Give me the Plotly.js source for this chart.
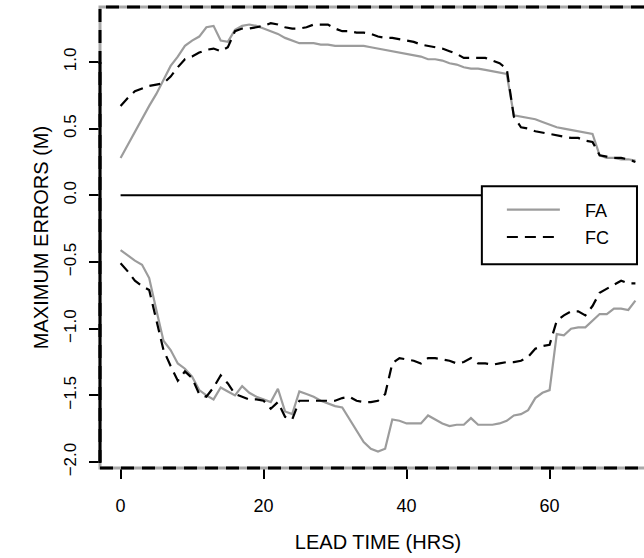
<!DOCTYPE html>
<html>
<head>
<meta charset="utf-8">
<script src="https://cdn.plot.ly/plotly-3.0.1.min.js"></script>
<style>
html,body{margin:0;padding:0;overflow:hidden;background:#fff;}
#chart{width:700px;height:558px;}
</style>
</head>
<body>
<div id="chart"></div>
<script>
// Lead time (hours)
const hours = [0,1,2,3,4,5,6,7,8,9,10,11,12,13,14,15,16,17,18,19,20,21,22,23,24,25,26,27,28,29,30,31,32,33,34,35,36,37,38,39,40,41,42,43,44,45,46,47,48,49,50,51,52,53,54,55,56,57,58,59,60,61,62,63,64,65,66,67,68,69,70,71,72];

// Maximum positive errors (m)
const faUpper = [0.28,0.38,0.48,0.58,0.67,0.76,0.86,0.97,1.04,1.12,
  1.16,1.19,1.26,1.27,1.16,1.15,1.24,1.27,1.28,1.27,
  1.25,1.23,1.21,1.18,1.16,1.14,1.14,1.14,1.13,1.13,
  1.12,1.12,1.12,1.12,1.12,1.11,1.10,1.09,1.08,1.07,
  1.06,1.05,1.04,1.02,1.02,1.01,0.99,0.98,0.96,0.95,
  0.95,0.94,0.93,0.92,0.91,0.60,0.59,0.58,0.57,0.55,
  0.53,0.51,0.50,0.49,0.48,0.47,0.46,0.30,0.28,0.28,
  0.27,0.27,0.26];
const fcUpper = [0.67,0.73,0.78,0.80,0.82,0.83,0.84,0.89,0.96,1.02,
  1.04,1.07,1.09,1.10,1.08,1.11,1.23,1.25,1.25,1.26,
  1.27,1.29,1.28,1.26,1.25,1.25,1.26,1.28,1.28,1.28,
  1.25,1.23,1.23,1.22,1.22,1.21,1.19,1.18,1.18,1.17,
  1.16,1.15,1.13,1.12,1.11,1.10,1.08,1.06,1.03,1.03,
  1.03,1.03,1.01,0.99,0.95,0.59,0.51,0.50,0.48,0.47,
  0.46,0.45,0.44,0.43,0.43,0.41,0.40,0.30,0.29,0.28,
  0.28,0.27,0.25];

// Maximum negative errors (m)
const faLower = [-0.41,-0.45,-0.49,-0.52,-0.62,-0.86,-1.09,-1.16,-1.26,-1.30,
  -1.36,-1.46,-1.50,-1.53,-1.44,-1.47,-1.50,-1.43,-1.48,-1.51,
  -1.53,-1.55,-1.45,-1.62,-1.64,-1.47,-1.49,-1.51,-1.54,-1.56,
  -1.58,-1.59,-1.68,-1.76,-1.85,-1.90,-1.92,-1.90,-1.68,-1.69,
  -1.71,-1.71,-1.71,-1.65,-1.68,-1.71,-1.73,-1.72,-1.72,-1.67,
  -1.72,-1.72,-1.72,-1.71,-1.69,-1.65,-1.64,-1.61,-1.52,-1.48,
  -1.46,-1.04,-1.05,-1.00,-0.99,-0.99,-0.94,-0.89,-0.89,-0.85,
  -0.85,-0.86,-0.79];
const fcLower = [-0.51,-0.57,-0.64,-0.68,-0.71,-0.94,-1.16,-1.28,-1.39,-1.32,
  -1.37,-1.49,-1.51,-1.44,-1.35,-1.41,-1.49,-1.51,-1.53,-1.53,
  -1.54,-1.60,-1.55,-1.66,-1.68,-1.54,-1.54,-1.54,-1.54,-1.54,
  -1.54,-1.52,-1.51,-1.54,-1.55,-1.55,-1.54,-1.49,-1.26,-1.22,
  -1.23,-1.24,-1.26,-1.22,-1.22,-1.23,-1.24,-1.26,-1.25,-1.22,
  -1.26,-1.26,-1.27,-1.26,-1.25,-1.25,-1.24,-1.21,-1.15,-1.13,
  -1.12,-0.94,-0.90,-0.87,-0.87,-0.90,-0.83,-0.73,-0.70,-0.67,
  -0.64,-0.66,-0.66];

// Zero reference line
const zeroX = [0, 72];
const zeroY = [0, 0];

// Tick labels and series names
const xTicks = [0, 20, 40, 60];
const yTicks = [-2.0, -1.5, -1.0, -0.5, 0.0, 0.5, 1.0];
const yTickText = ["\u22122.0", "\u22121.5", "\u22121.0", "\u22120.5", "0.0", "0.5", "1.0"];
const seriesNames = ["FA", "FC"];

const GRAY = "#9c9c9c";
const FONT = "Liberation Sans, Arial, sans-serif";
const PAD = "\u00a0\u00a0\u00a0\u00a0"; // gap between legend sample line and label

const traces = [
  {x: zeroX, y: zeroY, type: "scatter", mode: "lines", line: {color: "#000", width: 2}, showlegend: false, hoverinfo: "skip"},
  {x: hours, y: faUpper, type: "scatter", mode: "lines", name: PAD + seriesNames[0], legendgroup: "a", line: {color: GRAY, width: 2.2}},
  {x: hours, y: fcUpper, type: "scatter", mode: "lines", name: PAD + seriesNames[1], legendgroup: "b", line: {color: "#000", width: 2.2, dash: "11px,7px"}},
  {x: hours, y: faLower, type: "scatter", mode: "lines", name: seriesNames[0], legendgroup: "a", showlegend: false, line: {color: GRAY, width: 2.2}},
  {x: hours, y: fcLower, type: "scatter", mode: "lines", name: seriesNames[1], legendgroup: "b", showlegend: false, line: {color: "#000", width: 2.2, dash: "11px,7px"}}
];

const layout = {
  width: 700, height: 558,
  margin: {l: 100.4, r: 43.6, t: 6.7, b: 90.3, pad: 0},
  paper_bgcolor: "#fff", plot_bgcolor: "#fff",
  font: {family: FONT, size: 18, color: "#000"},
  showlegend: true,
  xaxis: {
    range: [-2.88, 74.88], tickmode: "array", tickvals: xTicks, ticktext: xTicks.map(String),
    showgrid: false, zeroline: false, showline: false, automargin: false,
    ticks: "outside", ticklen: 10, tickwidth: 2, tickcolor: "#000",
    ticklabelstandoff: 11,
    tickfont: {family: FONT, size: 18, color: "#000"},
    title: {text: "LEAD TIME (HRS)", font: {family: FONT, size: 20, color: "#000"}, standoff: 20}
  },
  yaxis: {
    range: [-2.044, 1.4115], tickmode: "array", tickvals: yTicks, ticktext: yTickText,
    tickangle: -90,
    showgrid: false, zeroline: false, showline: false, automargin: false,
    ticks: "outside", ticklen: 10, tickwidth: 2, tickcolor: "#000",
    ticklabelstandoff: 6,
    tickfont: {family: FONT, size: 17, color: "#000"},
    title: {text: "MAXIMUM ERRORS (M)", font: {family: FONT, size: 20, color: "#000"}, standoff: 7}
  },
  legend: {
    x: 0.7228, y: 0.600, xanchor: "left", yanchor: "top",
    bgcolor: "rgba(0,0,0,0)", borderwidth: 0,
    font: {family: FONT, size: 18, color: "#000"},
    traceorder: "grouped", tracegroupgap: 1, itemwidth: 53
  },
  shapes: [
    {type: "rect", xref: "paper", yref: "paper", x0: 0, x1: 1, y0: 0, y1: 1, layer: "above",
     line: {color: "#a8a8a8", width: 3}},
    {type: "rect", xref: "paper", yref: "paper", x0: 0, x1: 1, y0: 0, y1: 1, layer: "above",
     line: {color: "#000", width: 3, dash: "13px,8px"}},
    {type: "line", xref: "paper", yref: "y", x0: 0, x1: 0, y0: -2, y1: 1, layer: "above",
     line: {color: "#000", width: 3}},
    {type: "rect", xref: "paper", yref: "paper", x0: 0.6868, x1: 0.9658, y0: 0.4419, y1: 0.611, layer: "above",
     fillcolor: "#fff", line: {color: "#000", width: 2}}
  ]
};

Plotly.newPlot("chart", traces, layout, {displayModeBar: false, staticPlot: true});
</script>
</body>
</html>
